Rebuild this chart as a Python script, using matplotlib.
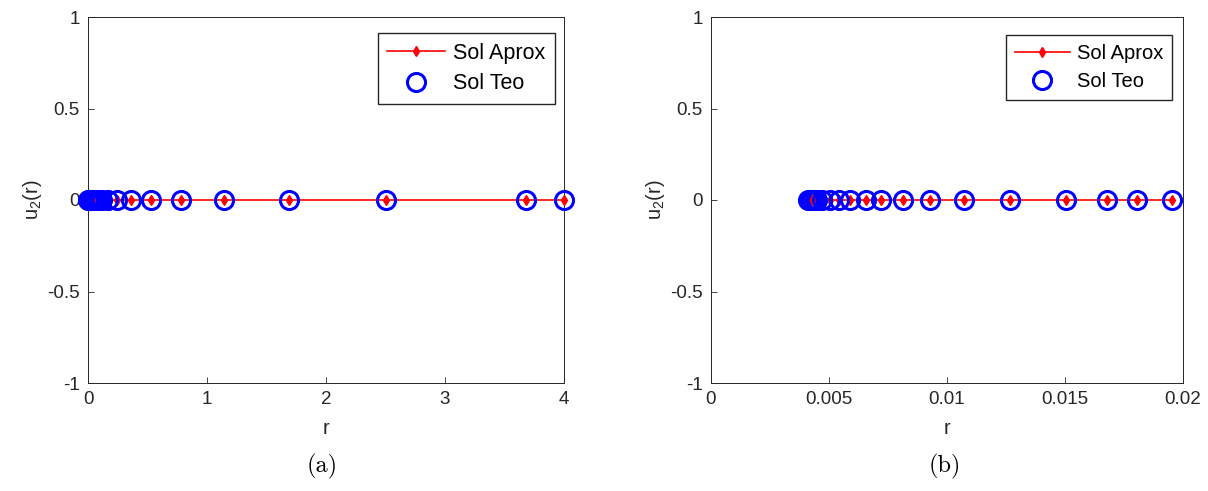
import numpy as np
import matplotlib
matplotlib.use("Agg")
import matplotlib.pyplot as plt

plt.rcParams["font.family"] = ["Liberation Sans", "DejaVu Sans"]
plt.rcParams["mathtext.fontset"] = "custom"
plt.rcParams["mathtext.rm"] = "Liberation Sans"

# panel (a): node positions on [0, 4]
r_a = [0.0, 0.005, 0.01, 0.02, 0.03, 0.045, 0.065, 0.09, 0.12, 0.17,
       0.245, 0.36, 0.53, 0.78, 1.14, 1.69, 2.5, 3.68, 4.0]
u_a_aprox = [0.0] * len(r_a)
u_a_teo = [0.0] * len(r_a)

# panel (b): node positions near the origin
r_b = [0.0041, 0.0042, 0.0043, 0.0044, 0.0045, 0.0047, 0.00503, 0.00542,
       0.0059, 0.00658, 0.00721, 0.00813, 0.00926, 0.01074, 0.01268,
       0.01505, 0.01678, 0.01805, 0.01953]
u_b_aprox = [0.0] * len(r_b)
u_b_teo = [0.0] * len(r_b)

fig = plt.figure(figsize=(12.08, 4.91), dpi=100)
ax1 = fig.add_axes([88 / 1208, 1 - 383 / 491, 476 / 1208, 366 / 491])
ax2 = fig.add_axes([711 / 1208, 1 - 383 / 491, 472 / 1208, 366 / 491])

grey = "#262626"


def style(ax, xlim, xticks, xticklabels, anchor, fs):
    ax.set_xlim(xlim)
    ax.set_ylim(-1, 1)
    ax.set_xticks(xticks)
    ax.set_xticklabels(xticklabels)
    ax.set_yticks([-1, -0.5, 0, 0.5, 1])
    ax.set_yticklabels(["-1", "-0.5", "0", "0.5", "1"])
    ax.tick_params(direction="in", length=4, width=0.6, colors=grey,
                   labelsize=13.5, top=False, right=False, pad=6)
    for s in ax.spines.values():
        s.set_color(grey)
        s.set_linewidth(0.7)
    ax.set_xlabel("r", fontsize=14.5, color=grey, labelpad=8)
    ax.set_ylabel(r"u$_{\mathrm{2}}$(r)", fontsize=14.5, color=grey,
                  labelpad=2)
    ax.legend(loc="upper right", bbox_to_anchor=anchor, fontsize=fs,
              frameon=True, fancybox=False, edgecolor=grey, borderpad=0.45,
              handlelength=2.7, handletextpad=0.35, labelspacing=0.45,
              borderaxespad=0, framealpha=1)


for ax, r, ua, ut in [(ax1, r_a, u_a_aprox, u_a_teo),
                      (ax2, r_b, u_b_aprox, u_b_teo)]:
    ax.plot(r, ua, color="red", marker="d", markersize=5.5, linewidth=1.2,
            label="Sol Aprox", clip_on=False, zorder=3)
    ax.plot(r, ut, linestyle="none", marker="o", markersize=13,
            markerfacecolor="none", markeredgecolor="blue",
            markeredgewidth=2.2, label="Sol Teo", clip_on=False, zorder=4)

style(ax1, (0, 4), [0, 1, 2, 3, 4], ["0", "1", "2", "3", "4"],
      (0.981, 0.956), 15.5)
style(ax2, (0, 0.02), [0, 0.005, 0.01, 0.015, 0.02],
      ["0", "0.005", "0.01", "0.015", "0.02"], (0.977, 0.951), 14.5)

fig.text(322 / 1208, 1 - 466 / 491, "(a)", fontfamily="cmr10",
         fontsize=17.5, ha="center", va="center")
fig.text(945 / 1208, 1 - 466 / 491, "(b)", fontfamily="cmr10",
         fontsize=17.5, ha="center", va="center")

fig.savefig("out.png", dpi=100)
